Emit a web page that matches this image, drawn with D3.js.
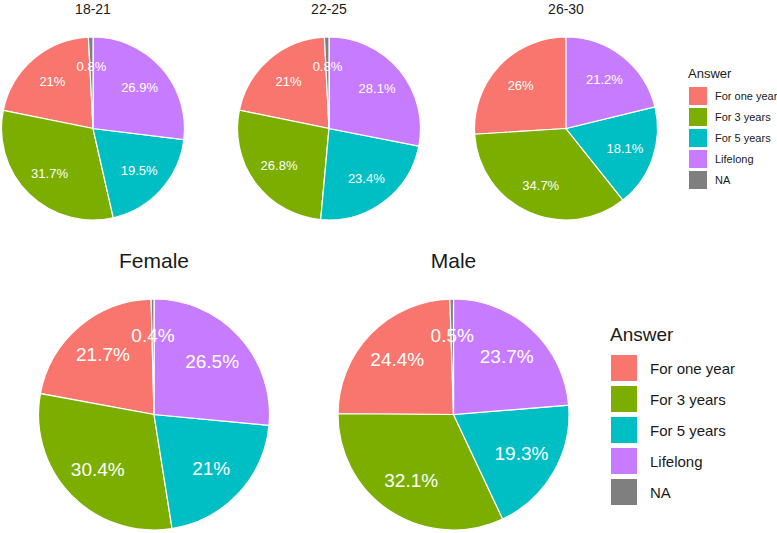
<!DOCTYPE html>
<html>
<head>
<meta charset="utf-8">
<script src="https://cdn.jsdelivr.net/npm/d3@7"></script>
<style>
  body { margin: 0; background: #fff; }
  text { font-family: "Liberation Sans", Arial, sans-serif; }
</style>
</head>
<body>
<svg id="chart" width="777" height="533"></svg>
<script>
// ---- Data ----
const answers = ["For one year", "For 3 years", "For 5 years", "Lifelong", "NA"];
const ageGroups = ["18-21", "22-25", "26-30"];
const age1821 = [21, 31.7, 19.5, 26.9, 0.8];
const age2225 = [21, 26.8, 23.4, 28.1, 0.8];
const age2630 = [26, 34.7, 18.1, 21.2, 0];
const genders = ["Female", "Male"];
const female = [21.7, 30.4, 21, 26.5, 0.4];
const male = [24.4, 32.1, 19.3, 23.7, 0.5];
const colors = ["#F8766D", "#7CAE00", "#00BFC4", "#C77CFF", "#7F7F7F"];

// clockwise drawing order from 12 o'clock
const clockRank = { "Lifelong": 0, "For 5 years": 1, "For 3 years": 2, "For one year": 3, "NA": 4 };

const svg = d3.select("#chart");
const color = d3.scaleOrdinal().domain(answers).range(colors);

function drawPie(title, values, cx, cy, r, titleY, titleSize, labelSize) {
  const data = answers.map((a, i) => ({ answer: a, value: values[i] }));
  const pie = d3.pie().value(d => d.value)
    .sort((a, b) => clockRank[a.answer] - clockRank[b.answer]);
  const arcs = pie(data);
  const arc = d3.arc().innerRadius(0).outerRadius(r);
  const labelArc = d3.arc().innerRadius(r * 0.68).outerRadius(r * 0.68);
  const g = svg.append("g").attr("transform", `translate(${cx},${cy})`);
  g.selectAll("path").data(arcs.filter(d => d.data.value > 0)).join("path")
    .attr("d", arc)
    .attr("fill", d => color(d.data.answer))
    .attr("stroke", "#fff")
    .attr("stroke-width", 1.2);
  g.selectAll("text.lbl").data(arcs.filter(d => d.data.value > 0)).join("text")
    .attr("class", "lbl")
    .attr("transform", d => `translate(${labelArc.centroid(d)})`)
    .attr("text-anchor", "middle")
    .attr("dominant-baseline", "central")
    .attr("fill", "#fff")
    .style("font-size", labelSize + "px")
    .text(d => d3.format("")(d.data.value) + "%");
  svg.append("text")
    .attr("x", cx).attr("y", titleY)
    .attr("text-anchor", "middle")
    .attr("fill", "#1a1a1a")
    .style("font-size", titleSize + "px")
    .text(title);
}

function drawLegend(x, titleY, titleSize, keyY, keySize, step, labelX, labelSize) {
  const g = svg.append("g");
  g.append("text").attr("x", x).attr("y", titleY)
    .attr("fill", "#1a1a1a").style("font-size", titleSize + "px").text("Answer");
  answers.forEach((a, i) => {
    g.append("rect").attr("x", x + 1).attr("y", keyY + i * step)
      .attr("width", keySize).attr("height", keySize)
      .attr("fill", color(a));
    g.append("text").attr("x", labelX).attr("y", keyY + i * step + keySize / 2)
      .attr("dominant-baseline", "central")
      .attr("fill", "#1a1a1a").style("font-size", labelSize + "px").text(a);
  });
}

const topVals = [age1821, age2225, age2630];
const topCx = [93, 329, 566];
ageGroups.forEach((g, i) => drawPie(g, topVals[i], topCx[i], 128.5, 91.5, 14, 14, 13));
drawLegend(688, 78, 13, 87, 18, 21, 715, 11);

const botVals = [female, male];
const botCx = [154, 453.5];
genders.forEach((g, i) => drawPie(g, botVals[i], botCx[i], 414.5, 115.5, 268, 21, 19));
drawLegend(610, 341, 19, 355, 26, 31, 650, 15);
</script>
</body>
</html>
